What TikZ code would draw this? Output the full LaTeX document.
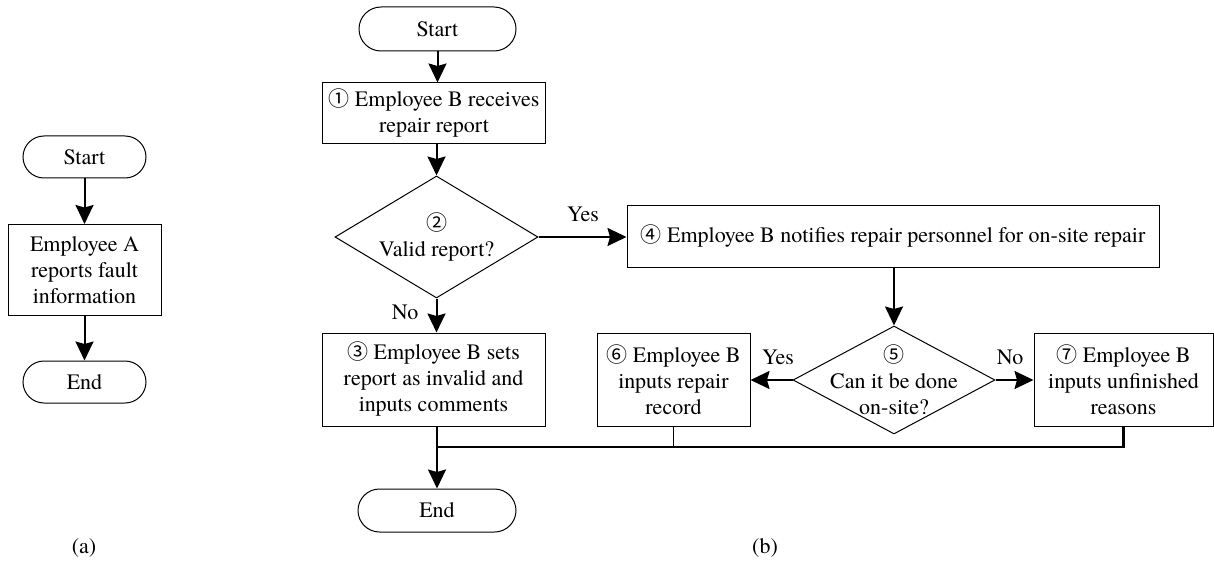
\documentclass[tikz,border=0pt]{standalone}
\usepackage{fontspec}
\setmainfont{TeX Gyre Termes}
\newfontfamily\circfont{Noto Sans CJK SC}
\usetikzlibrary{shapes.geometric,shapes.misc,arrows.meta}
\newcommand{\cn}[1]{{\circfont\fontsize{21}{20}\selectfont #1}}
\begin{document}
\begin{tikzpicture}[x=1pt,y=-1pt,
  font=\fontsize{22}{26}\selectfont,
  term/.style={draw, line width=1pt, rounded rectangle, inner sep=0pt, minimum height=42pt},
  proc/.style={draw, line width=1pt, rectangle, inner sep=0pt, align=center},
  decision/.style={draw, line width=1pt, diamond, inner sep=0pt},
  lbl/.style={inner sep=0pt, align=center},
  arr/.style={line width=2pt, -{Stealth[length=19pt,width=18pt,inset=2.5pt]}},
  ln/.style={line width=2.4pt}]
\useasboundingbox (0,0) rectangle (1214,564);

% (a)
\node[term, minimum width=123pt] (sa) at (84.5,157) {Start};
\node[proc, minimum width=153pt, minimum height=91pt] (ba) at (84.5,270) {Employee A\\reports fault\\information};
\node[term, minimum width=123pt] (ea) at (84.5,382) {End};
\draw[arr] (sa.south) -- (ba.north);
\draw[arr] (ba.south) -- (ea.north);
\node[lbl] (la) at (84,548) {(a)};

% (b)
\node[term, minimum width=157pt, minimum height=44pt] (sb) at (437.5,29) {Start};
\node[proc, minimum width=223pt, minimum height=61pt] (b1) at (434,113.5) {\cn{①} Employee B receives\\repair report};
\node[decision, minimum width=203pt, minimum height=122pt] (d2) at (436.5,237) {};
\node[lbl] (t2) at (436.5,237) {\cn{②}\\Valid report?};
\node[proc, minimum width=532pt, minimum height=62pt] (b4) at (893,236.5) {\cn{④} Employee B notifies repair personnel for on-site repair};
\node[proc, minimum width=223pt, minimum height=93pt] (b3) at (433.5,379.5) {\cn{③} Employee B sets\\report as invalid and\\inputs comments};
\node[decision, minimum width=202pt, minimum height=108pt] (d5) at (894,380) {};
\node[lbl] (t5) at (894,380) {\cn{⑤}\\Can it be done\\on-site?};
\node[proc, minimum width=153pt, minimum height=93pt] (b6) at (673.5,379.5) {\cn{⑥} Employee B\\inputs repair\\record};
\node[proc, minimum width=179pt, minimum height=93pt] (b7) at (1123.5,379.5) {\cn{⑦} Employee B\\inputs unfinished\\reasons};
\node[term, minimum width=158pt, minimum height=43pt] (eb) at (437,510.5) {End};
\coordinate (m) at (437,447);

\draw[arr] (sb.south) -- (b1.north -| sb.south);
\draw[arr] (b1.south -| d2.north) -- (d2.north);
\draw[arr] (d2.east) -- (b4.west |- d2.east);
\draw[arr] (d2.south) -- (b3.north -| d2.south);
\draw[arr] (b4.south -| d5.north) -- (d5.north);
\draw[arr] (d5.west) -- (b6.east |- d5.west);
\draw[arr] (d5.east) -- (b7.west |- d5.east);
\draw[ln] (b3.south -| m) -- (m);
\draw[line width=1.5pt] (b6.south) -- (b6.south |- m);
\draw[ln] (b7.south) |- (m);
\draw[arr] (m) -- (eb.north -| m);

\node[lbl] (yes1) at (583,214) {Yes};
\node[lbl] (no1) at (405,312) {No};
\node[lbl] (yes2) at (778,357) {Yes};
\node[lbl] (no2) at (1010,357) {No};
\node[lbl] (lb) at (765,548) {(b)};
\end{tikzpicture}
\end{document}
